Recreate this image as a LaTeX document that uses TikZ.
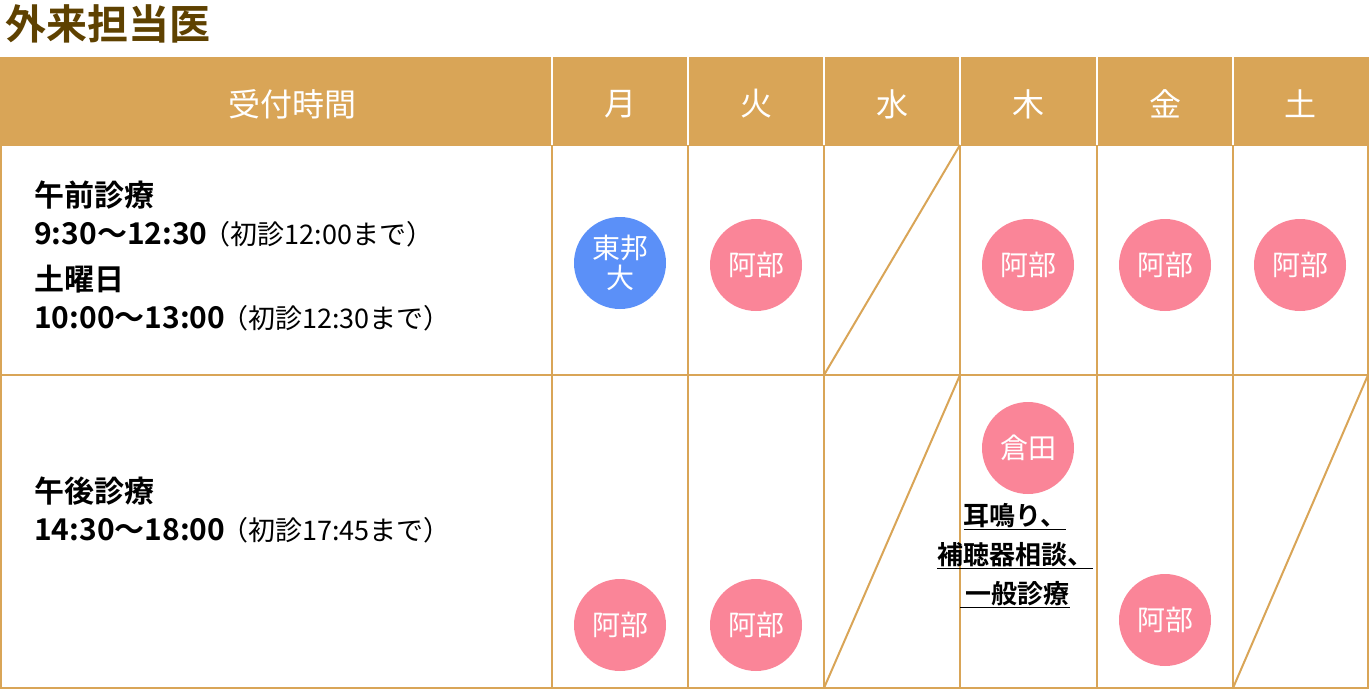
\documentclass[tikz,border=0pt]{standalone}
\usepackage{fontspec}
\setmainfont{Noto Sans CJK JP}[BoldFont={Noto Sans CJK JP Bold}]
\newfontfamily\jpb{Noto Sans CJK JP Bold}
\definecolor{gold}{HTML}{D9A557}
\definecolor{titlec}{HTML}{5E4100}
\definecolor{pinkc}{HTML}{FA8598}
\definecolor{bluec}{HTML}{5B90F8}
\newcommand{\paren}[1]{{\normalfont\fontsize{27}{30}\selectfont\hspace{-4pt}#1}}
\begin{document}
\begin{tikzpicture}[x=1pt,y=-1pt,
  doc/.style={circle,minimum size=92pt,inner sep=0pt,text=white,font=\fontsize{28}{30}\selectfont,align=center},
  pk/.style={doc,fill=pinkc},
  hd/.style={text=white,font=\fontsize{32}{34}\selectfont},
  bd/.style={anchor=west,align=left,font=\fontsize{30}{38}\selectfont},
  grid/.style={draw=gold,line width=2pt}]
\useasboundingbox (0,0) rectangle (1369,689);
\node[anchor=west,text=titlec,font=\jpb\fontsize{41}{44}\selectfont,inner sep=0pt] (title) at (5,24) {外来担当医};
\fill[gold] (0,57) rectangle (1369,145);
\draw[grid] (1,145) rectangle (1368,688);
\draw[grid] (1,375) -- (1368,375);
\foreach \x in {552,688,824,960,1097,1233}{\draw[grid] (\x,145) -- (\x,688);}
\foreach \x in {552,688,824,960,1097,1233}{\draw[white,line width=1.5pt] (\x,57) -- (\x,145);}
\node[hd] (h0) at (292,104) {受付時間};
\node[hd] (h1) at (620,104) {月};
\node[hd] (h2) at (756,104) {火};
\node[hd] (h3) at (892,104) {水};
\node[hd] (h4) at (1028,104) {木};
\node[hd] (h5) at (1165,104) {金};
\node[hd] (h6) at (1300,104) {土};
\node[bd,inner sep=0pt] (r1) at (34,256) {\jpb 午前診療\\\jpb 9:30〜12:30\paren{（初診12:00まで）}\\[8pt]\jpb 土曜日\\\jpb 10:00〜13:00\paren{（初診12:30まで）}};
\node[bd,inner sep=0pt] (r2) at (34,510) {\jpb 午後診療\\\jpb 14:30〜18:00\paren{（初診17:45まで）}};
\draw[grid] (960,145) -- (824,375);
\draw[grid] (960,375) -- (824,688);
\draw[grid] (1368,375) -- (1233,688);
\node[doc,fill=bluec] (c1) at (620,263) {東邦\\大};
\node[pk] (c2) at (756,265) {阿部};
\node[pk] (c3) at (1028,265) {阿部};
\node[pk] (c4) at (1165,265) {阿部};
\node[pk] (c5) at (1300,265) {阿部};
\node[pk] (c6) at (1028,448) {倉田};
\node[pk] (c7) at (620,625) {阿部};
\node[pk] (c8) at (756,625) {阿部};
\node[pk] (c9) at (1165,620) {阿部};
\node[font=\jpb\fontsize{26}{39}\selectfont,align=center] (note) at (1015,556) {\underline{耳鳴り、}\\\underline{補聴器相談、}\\\underline{\ 一般診療}};
\end{tikzpicture}
\end{document}
